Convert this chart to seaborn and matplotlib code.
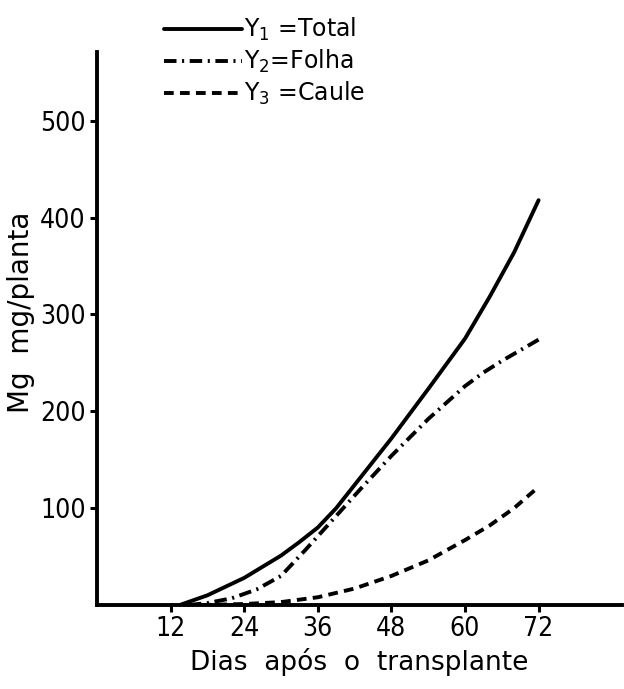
import matplotlib
matplotlib.use("Agg")
import matplotlib.pyplot as plt
import seaborn as sns
import pandas as pd

# Days after transplanting and Mg accumulation (mg/plant) per plant part
days_total = [13.5, 18, 24, 30, 33, 36, 39, 42, 45, 48, 54, 60, 64, 68, 72]
mg_total = [0, 10, 28, 51, 65, 80, 100, 124, 148, 172, 223, 275, 318, 364, 418]

days_folha = [15, 18, 22, 26, 30, 34, 38, 43, 48, 54, 60, 63, 66, 69, 72]
mg_folha = [0, 2, 7, 16, 30, 57, 85, 120, 154, 192, 226, 240, 252, 263, 274]

days_caule = [17, 24, 30, 36, 42, 48, 54, 60, 64, 68, 72]
mg_caule = [0, 1, 3, 8, 17, 30, 46, 67, 82, 100, 122]

labels = ["Y$_1$ =Total", "Y$_2$=Folha", "Y$_3$ =Caule"]
x_ticks = [12, 24, 36, 48, 60, 72]
y_ticks = [100, 200, 300, 400, 500]

sns.set_style("ticks")
plt.rcParams["font.family"] = ["DejaVu Sans"]
plt.rcParams["mathtext.fontset"] = "dejavusans"
plt.rcParams["lines.scale_dashes"] = False
plt.rcParams["text.color"] = "black"
plt.rcParams["axes.labelcolor"] = "black"

fig = plt.figure(figsize=(6.24, 6.89), dpi=100)
ax = fig.add_axes([97 / 624, 1 - 605 / 689, (622 - 97) / 624, (605 - 52) / 689])

series = [
    (days_total, mg_total, "-", labels[0]),
    (days_folha, mg_folha, (0, (9, 4, 1.5, 4)), labels[1]),
    (days_caule, mg_caule, (0, (7, 4.5)), labels[2]),
]
for d, v, ls, lab in series:
    df = pd.DataFrame({"dias": d, "mg": v})
    sns.lineplot(data=df, x="dias", y="mg", ax=ax, color="black",
                 linewidth=2.8, linestyle=ls, label=lab)

ax.set_xlim(0, 85.6)
ax.set_ylim(0, 571)
ax.set_xticks(x_ticks)
ax.set_yticks(y_ticks)
ax.tick_params(axis="both", direction="out", length=5, width=2.2,
               labelsize=19, pad=3, color="black", labelcolor="black")
for lbl in ax.get_xticklabels() + ax.get_yticklabels():
    lbl.set_fontstretch("condensed")
for s in ["top", "right"]:
    ax.spines[s].set_visible(False)
for s in ["left", "bottom"]:
    ax.spines[s].set_linewidth(2.8)
    ax.spines[s].set_color("black")

ax.set_xlabel("Dias  após  o  transplante", fontsize=19, labelpad=4)
ax.set_ylabel("Mg  mg/planta", fontsize=20)
ax.yaxis.set_label_coords(-0.118, 0.53)

leg = ax.legend(loc="upper left", bbox_to_anchor=(164 / 624, 1 - 16 / 689),
                bbox_transform=fig.transFigure, frameon=False, fontsize=17,
                handlelength=3.3, handletextpad=0.1, labelspacing=0.2,
                borderpad=0, borderaxespad=0)
for line in leg.get_lines():
    line.set_linewidth(2.8)

fig.savefig("out.png", dpi=100, facecolor="white")
